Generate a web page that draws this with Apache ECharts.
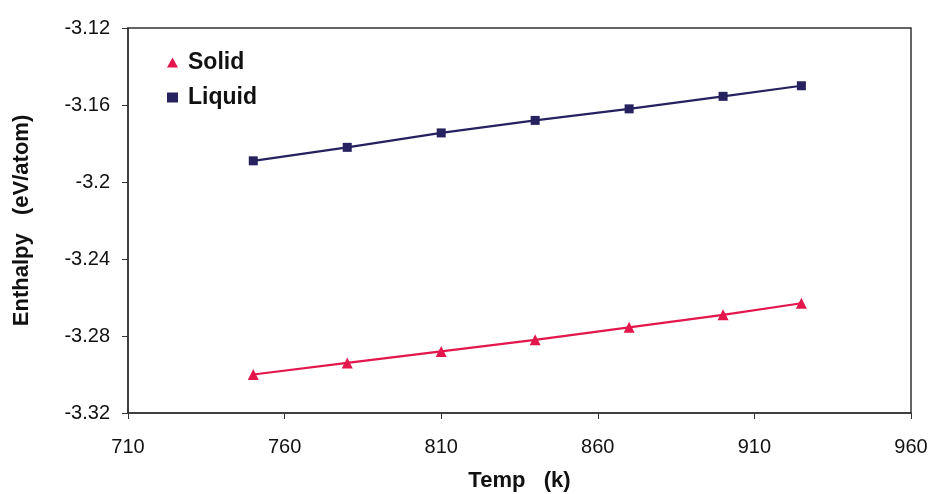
<!DOCTYPE html>
<html>
<head>
<meta charset="utf-8">
<script src="https://cdn.jsdelivr.net/npm/echarts@6/dist/echarts.min.js"></script>
<style>html,body{margin:0;padding:0;background:#fff;}#c{width:936px;height:494px;}</style>
</head>
<body>
<div id="c"></div>
<script>
var temps = [750, 780, 810, 840, 870, 900, 925];
var solid = [-3.300, -3.294, -3.288, -3.282, -3.2755, -3.269, -3.263];
var liquid = [-3.189, -3.182, -3.1745, -3.168, -3.162, -3.1555, -3.150];
var xMin = 710, xMax = 960, xStep = 50;
var yMin = -3.32, yMax = -3.12, yStep = 0.04;

function pairs(xs, ys){ return xs.map(function(x,i){ return [x, ys[i]]; }); }

var font = '"Liberation Sans", Arial, sans-serif';
var chart = echarts.init(document.getElementById('c'));
chart.setOption({
  animation: false,
  backgroundColor: '#fff',
  grid: {left: 128, right: 25, top: 28, bottom: 81, show: true, borderColor: '#333', borderWidth: 1.5,
    backgroundColor: 'transparent', outerBoundsMode: 'none', containLabel: false},
  legend: {
    orient: 'vertical', left: 162, top: 46, itemGap: 12, itemWidth: 11, itemHeight: 10,
    textStyle: {fontFamily: font, fontSize: 23, fontWeight: 'bold', color: '#111', padding: [0, 0, 0, 5]},
    data: [{name: 'Solid', icon: 'triangle'}, {name: 'Liquid', icon: 'rect'}]
  },
  xAxis: {
    type: 'value', min: xMin, max: xMax, interval: xStep,
    name: 'Temp   (k)', nameLocation: 'middle', nameGap: 57,
    nameTextStyle: {fontFamily: font, fontSize: 22, fontWeight: 'bold', color: '#111'},
    axisLine: {show: true, lineStyle: {color: '#333', width: 1.5}},
    axisTick: {show: true, length: 6, lineStyle: {color: '#333'}},
    axisLabel: {fontFamily: font, fontSize: 20, color: '#111', margin: 24},
    splitLine: {show: false}
  },
  yAxis: {
    type: 'value', min: yMin, max: yMax, interval: yStep,
    name: 'Enthalpy   (eV/atom)', nameLocation: 'middle', nameGap: 95, nameRotate: 90,
    nameTextStyle: {fontFamily: font, fontSize: 22, fontWeight: 'bold', color: '#111'},
    axisLine: {show: true, lineStyle: {color: '#333', width: 1.5}},
    axisTick: {show: true, length: 6, lineStyle: {color: '#333'}},
    axisLabel: {fontFamily: font, fontSize: 20, color: '#111', margin: 18,
      formatter: function(v){ return String(parseFloat(v.toFixed(2))); }},
    splitLine: {show: false}
  },
  series: [
    {name: 'Solid', type: 'line', data: pairs(temps, solid), symbol: 'triangle', symbolSize: 11,
      itemStyle: {color: '#e3174c'}, lineStyle: {color: '#e3174c', width: 2.2}},
    {name: 'Liquid', type: 'line', data: pairs(temps, liquid), symbol: 'rect', symbolSize: 9,
      itemStyle: {color: '#26215f'}, lineStyle: {color: '#26215f', width: 2.2}}
  ]
});
</script>
</body>
</html>
